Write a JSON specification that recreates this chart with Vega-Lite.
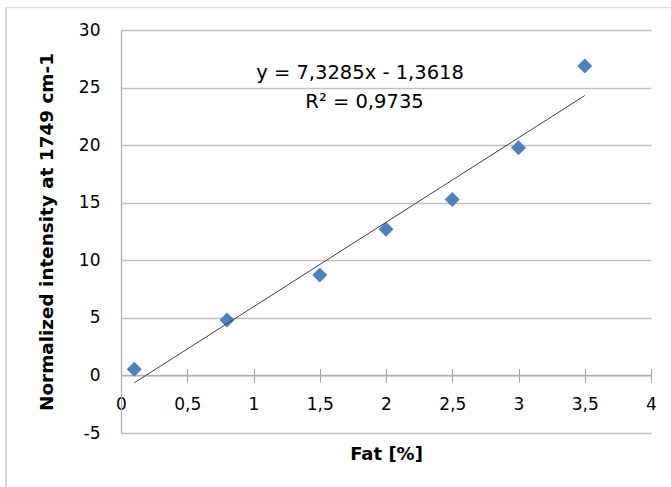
{
  "$schema": "https://vega.github.io/schema/vega-lite/v6.json",
  "width": 530,
  "height": 403,
  "autosize": {"type": "none"},
  "padding": {"left": 121, "top": 30, "right": 20, "bottom": 54},
  "background": "#ffffff",
  "config": {"view": {"stroke": null}, "font": "DejaVu Sans"},
  "datasets": {
    "points": [
      {"fat": 0.1, "intensity": 0.53},
      {"fat": 0.8, "intensity": 4.81},
      {"fat": 1.5, "intensity": 8.72},
      {"fat": 2.0, "intensity": 12.69},
      {"fat": 2.5, "intensity": 15.29},
      {"fat": 3.0, "intensity": 19.78},
      {"fat": 3.5, "intensity": 26.87}
    ],
    "labels": [
      {"label": "y = 7,3285x - 1,3618", "fat": 1.804, "intensity": 25.73},
      {"label": "R² = 0,9735", "fat": 1.838, "intensity": 23.21}
    ]
  },
  "resolve": {"axis": {"x": "independent"}},
  "layer": [
    {
      "data": {"name": "points"},
      "mark": {"type": "rect", "fill": null, "stroke": "#d9d9d9", "strokeWidth": 1, "clip": false},
      "encoding": {
        "x": {"datum": -0.868, "type": "quantitative", "axis": null},
        "x2": {"datum": 4.6},
        "y": {"datum": 31.95, "type": "quantitative"},
        "y2": {"datum": -12}
      }
    },
    {
      "data": {"name": "points"},
      "mark": {"type": "point", "shape": "diamond", "filled": true, "size": 225, "color": "#4f81bd", "opacity": 1},
      "encoding": {
        "x": {
          "field": "fat", "type": "quantitative",
          "scale": {"domain": [0, 4], "nice": false, "zero": false},
          "axis": {
            "orient": "bottom",
            "values": [0, 0.5, 1, 1.5, 2, 2.5, 3, 3.5, 4],
            "offset": -57.6,
            "grid": false,
            "domainColor": "#a6a6a6",
            "tickColor": "#a6a6a6",
            "tickSize": 7,
            "labelPadding": 14,
            "labelFlush": false,
            "labelOverlap": false,
            "labelFont": "DejaVu Sans",
            "labelFontSize": 17,
            "labelColor": "#000000",
            "labelExpr": "replace(datum.value + '', '.', ',')",
            "title": "Fat [%]",
            "titleFont": "DejaVu Sans",
            "titleFontSize": 18,
            "titleFontWeight": "bold",
            "titleColor": "#000000",
            "titleX": 265,
            "titleY": 84,
            "titleAlign": "center",
            "titleBaseline": "alphabetic"
          }
        },
        "y": {
          "field": "intensity", "type": "quantitative",
          "scale": {"domain": [-5, 30], "nice": false, "zero": false},
          "axis": {
            "values": [-5, 0, 5, 10, 15, 20, 25, 30],
            "grid": true,
            "gridColor": "#c0c0c0",
            "gridWidth": 1.3,
            "domainColor": "#b0b0b0",
            "domainWidth": 1.3,
            "ticks": false,
            "labelPadding": 21,
            "labelFont": "DejaVu Sans",
            "labelFontSize": 17,
            "labelColor": "#000000",
            "labelExpr": "datum.value + ''",
            "title": "Normalized intensity at 1749 cm-1",
            "titleFont": "DejaVu Sans",
            "titleFontSize": 18.4,
            "titleFontWeight": "bold",
            "titleColor": "#000000",
            "titleAngle": -90,
            "titleX": -69,
            "titleY": 201.5,
            "titleAlign": "center",
            "titleBaseline": "alphabetic"
          }
        }
      }
    },
    {
      "data": {"name": "points"},
      "transform": [{"regression": "intensity", "on": "fat"}],
      "mark": {"type": "line", "color": "#404040", "strokeWidth": 1},
      "encoding": {
        "x": {"field": "fat", "type": "quantitative", "axis": null},
        "y": {"field": "intensity", "type": "quantitative"}
      }
    },
    {
      "data": {"name": "labels"},
      "mark": {"type": "text", "font": "DejaVu Sans", "fontSize": 19.5, "align": "center", "baseline": "alphabetic", "color": "#000000"},
      "encoding": {
        "x": {
          "field": "fat", "type": "quantitative",
          "axis": {
            "orient": "bottom",
            "values": [0.5, 1, 1.5, 2, 2.5, 3, 3.5, 4],
            "offset": -57.6,
            "grid": false,
            "domain": false,
            "labels": false,
            "title": null,
            "tickColor": "#a6a6a6",
            "tickSize": -7
          }
        },
        "y": {"field": "intensity", "type": "quantitative"},
        "text": {"field": "label"}
      }
    }
  ]
}
